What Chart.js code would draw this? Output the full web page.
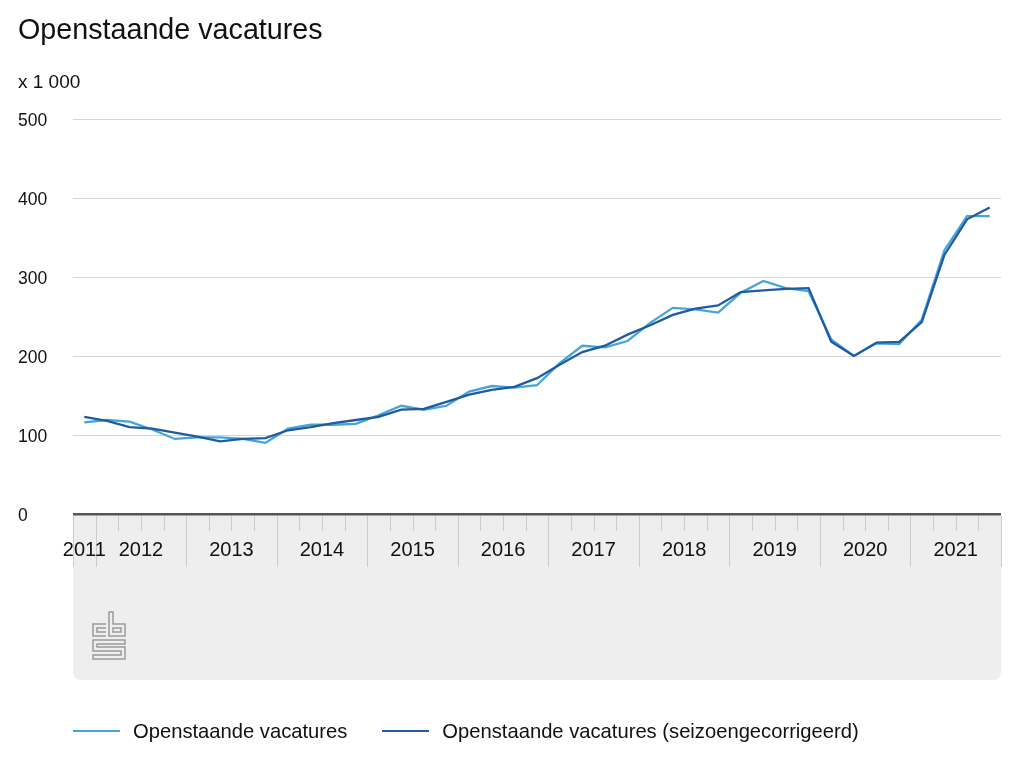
<!DOCTYPE html>
<html>
<head>
<meta charset="utf-8">
<script src="https://cdn.jsdelivr.net/npm/chart.js@4/dist/chart.umd.min.js"></script>
<style>
  body { margin: 0; background: #fff; font-family: 'Liberation Sans', Arial, sans-serif; color: #111; }
  #wrap { position: relative; width: 1018px; height: 764px; }
  #title { position: absolute; left: 18px; top: 12px; font-size: 28.7px; line-height: 34px; }
  #unit { position: absolute; left: 18px; top: 71px; font-size: 19px; line-height: 22px; }
  #legend { position: absolute; left: 73px; top: 719px; display: flex; font-size: 20.2px; line-height: 24px; }
  .item { display: flex; align-items: center; margin-right: 35px; }
  .swatch { width: 47px; height: 2px; margin-right: 13px; }
</style>
</head>
<body>
<div id="wrap">
  <canvas id="vacaturechart" width="1018" height="764"></canvas>
  <div id="title">Openstaande vacatures</div>
  <div id="unit">x 1 000</div>
  <div id="legend"></div>
</div>
<script>
// kwartalen 2011 K4 t/m 2021 K4
const quarters = [
    '2011 K4',
    '2012 K1', '2012 K2', '2012 K3', '2012 K4',
    '2013 K1', '2013 K2', '2013 K3', '2013 K4',
    '2014 K1', '2014 K2', '2014 K3', '2014 K4',
    '2015 K1', '2015 K2', '2015 K3', '2015 K4',
    '2016 K1', '2016 K2', '2016 K3', '2016 K4',
    '2017 K1', '2017 K2', '2017 K3', '2017 K4',
    '2018 K1', '2018 K2', '2018 K3', '2018 K4',
    '2019 K1', '2019 K2', '2019 K3', '2019 K4',
    '2020 K1', '2020 K2', '2020 K3', '2020 K4',
    '2021 K1', '2021 K2', '2021 K3', '2021 K4'
];
const years = ['2011', '2012', '2013', '2014', '2015', '2016', '2017', '2018', '2019', '2020', '2021'];
const yTicks = [0, 100, 200, 300, 400, 500];

// x 1 000
const vacatures = [116, 119, 117, 107, 95, 97, 97, 95, 90, 108, 113, 113, 114, 125, 137, 132, 137, 155, 162, 160, 163,
    191, 213, 211, 219, 242, 261, 259, 255, 280, 295, 286, 282, 221, 200, 216, 215, 246, 334, 377, 377];
const vacatures_sa = [123, 118, 110, 108, 103, 98, 92, 95, 96, 106, 110, 115, 119, 123, 132, 133, 142, 151, 157, 161, 172,
    189, 205, 213, 227, 239, 252, 260, 264, 281, 283, 285, 286, 218, 200, 217, 218, 243, 328, 373, 388];

const seriesLabels = ['Openstaande vacatures', 'Openstaande vacatures (seizoengecorrigeerd)'];
const seriesColors = ['#45a6d6', '#1f5aa3'];

const fontFamily = "'Liberation Sans', Arial, sans-serif";

// grey panel under the axis, quarter/year ticks, year labels and the cbs mark
const axisPanel = {
    id: 'axisPanel',
    beforeDraw(chart) {
        const ctx = chart.ctx;
        const x = chart.scales.x;
        const left = x.left, right = x.right, top = x.top, bottom = x.bottom;
        const r = 9;
        ctx.save();
        ctx.fillStyle = '#eeeeee';
        ctx.beginPath();
        ctx.moveTo(left, top);
        ctx.lineTo(right, top);
        ctx.lineTo(right, bottom - r);
        ctx.quadraticCurveTo(right, bottom, right - r, bottom);
        ctx.lineTo(left + r, bottom);
        ctx.quadraticCurveTo(left, bottom, left, bottom - r);
        ctx.closePath();
        ctx.fill();

        // cbs logo
        ctx.strokeStyle = '#9a9a9a';
        ctx.lineWidth = 1.5;
        ctx.beginPath();
        ctx.moveTo(106, 624); ctx.lineTo(93, 624); ctx.lineTo(93, 636); ctx.lineTo(106, 636);
        ctx.moveTo(106, 628); ctx.lineTo(97, 628); ctx.lineTo(97, 632); ctx.lineTo(106, 632);
        ctx.moveTo(109, 612); ctx.lineTo(113, 612); ctx.lineTo(113, 624); ctx.lineTo(125, 624);
        ctx.lineTo(125, 636); ctx.lineTo(109, 636); ctx.closePath();
        ctx.rect(113, 628, 8, 4);
        ctx.moveTo(125, 640); ctx.lineTo(93, 640); ctx.lineTo(93, 651); ctx.lineTo(121, 651);
        ctx.lineTo(121, 655); ctx.lineTo(93, 655); ctx.lineTo(93, 659); ctx.lineTo(125, 659);
        ctx.lineTo(125, 647); ctx.lineTo(97, 647); ctx.lineTo(97, 644); ctx.lineTo(125, 644); ctx.closePath();
        ctx.stroke();
        ctx.restore();
    },
    afterDraw(chart) {
        const ctx = chart.ctx;
        const x = chart.scales.x;
        const band = x.getPixelForValue(1) - x.getPixelForValue(0);
        ctx.save();
        ctx.strokeStyle = '#cccccc';
        ctx.lineWidth = 1;
        for (let k = 0; k <= quarters.length; k++) {
            const px = Math.round(x.getPixelForValue(k) - band / 2) + 0.5;
            const yearStart = k === 0 || k === quarters.length || quarters[k].endsWith('K1');
            ctx.beginPath();
            ctx.moveTo(px, x.top + 2);
            ctx.lineTo(px, x.top + (yearStart ? 53 : 17));
            ctx.stroke();
        }
        ctx.fillStyle = '#111';
        ctx.font = '20px ' + fontFamily;
        ctx.textAlign = 'center';
        ctx.textBaseline = 'middle';
        years.forEach(function (year) {
            let first = -1, last = -1;
            quarters.forEach(function (q, i) {
                if (q.startsWith(year)) {
                    if (first < 0) first = i;
                    last = i;
                }
            });
            const cx = (x.getPixelForValue(first) + x.getPixelForValue(last)) / 2;
            ctx.fillText(year, cx, x.top + 36);
        });
        ctx.restore();
    }
};

const data = {
    labels: quarters,
    datasets: [
        {
            label: seriesLabels[0],
            data: vacatures,
            borderColor: seriesColors[0],
            backgroundColor: seriesColors[0],
            borderWidth: 2.3,
            pointRadius: 0,
            tension: 0,
            order: 2
        },
        {
            label: seriesLabels[1],
            data: vacatures_sa,
            borderColor: seriesColors[1],
            backgroundColor: seriesColors[1],
            borderWidth: 2.3,
            pointRadius: 0,
            tension: 0,
            order: 1
        }
    ]
};

const lineconfig = {
    type: 'line',
    data: data,
    options: {
        responsive: false,
        animation: false,
        layout: {
            padding: { left: 18, right: 17, top: 119, bottom: 84 }
        },
        plugins: {
            legend: { display: false },
            title: { display: false },
            tooltip: { enabled: false }
        },
        scales: {
            x: {
                type: 'category',
                offset: true,
                grid: { display: false },
                border: { display: false },
                ticks: { display: false },
                afterFit(scale) { scale.height = 166; }
            },
            y: {
                min: 0,
                max: 500,
                afterBuildTicks(scale) {
                    scale.ticks = yTicks.map(function (v) { return { value: v }; });
                },
                grid: {
                    drawTicks: false,
                    color: function (c) { return c.tick.value === 0 ? '#555' : '#d6d6d6'; },
                    lineWidth: function (c) { return c.tick.value === 0 ? 2.5 : 1; }
                },
                border: { display: false },
                ticks: {
                    crossAlign: 'far',
                    padding: 0,
                    labelOffset: 2,
                    color: '#111',
                    font: { family: fontFamily, size: 17.5 }
                },
                afterFit(scale) { scale.width = 55; }
            }
        }
    },
    plugins: [axisPanel]
};

new Chart(document.getElementById('vacaturechart'), lineconfig);

// legend
const legend = document.getElementById('legend');
seriesLabels.forEach(function (label, i) {
    const item = document.createElement('div');
    item.className = 'item';
    const sw = document.createElement('span');
    sw.className = 'swatch';
    sw.style.background = seriesColors[i];
    const txt = document.createElement('span');
    txt.textContent = label;
    item.appendChild(sw);
    item.appendChild(txt);
    legend.appendChild(item);
});
</script>
</body>
</html>
